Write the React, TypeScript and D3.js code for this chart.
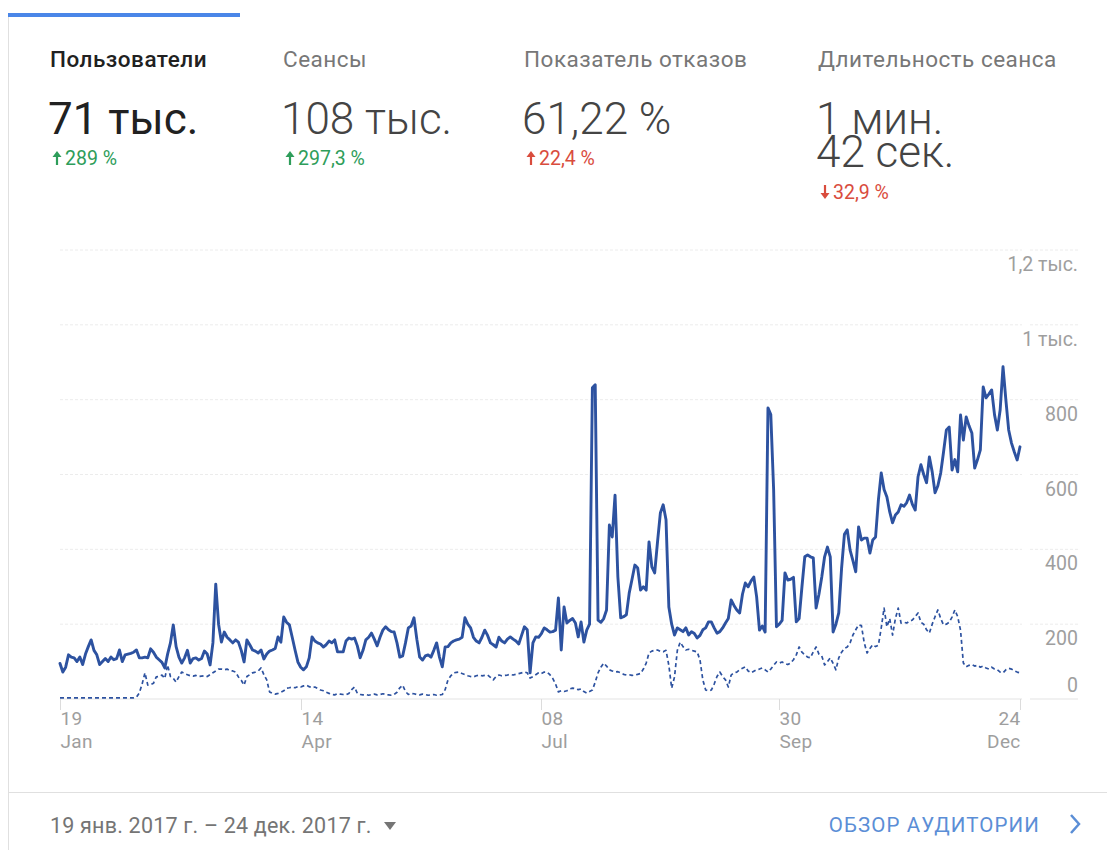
import React from "react";
import * as d3 from "d3";

// ---------- data ----------
const startDate = new Date(2017, 0, 19);
const endDate = new Date(2017, 11, 24);

// Users per day (current period), Jan 19 – Dec 24 2017
const users: number[] = [
  95, 72, 85, 118, 112, 110, 100, 112, 92, 120,
  140, 158, 130, 118, 92, 100, 108, 100, 112, 105,
  108, 131, 100, 118, 120, 122, 125, 131, 110, 110,
  112, 110, 134, 125, 112, 105, 98, 83, 120, 150,
  198, 140, 112, 96, 110, 130, 96, 108, 110, 104,
  108, 128, 120, 91, 150, 307, 200, 152, 179, 165,
  158, 150, 158, 152, 130, 99, 158, 145, 131, 128,
  123, 131, 107, 120, 128, 131, 135, 166, 152, 219,
  205, 198, 165, 131, 99, 85, 78, 86, 110, 166,
  155, 150, 147, 139, 145, 155, 150, 158, 126, 126,
  126, 155, 163, 160, 163, 142, 110, 130, 158, 165,
  176, 160, 142, 165, 184, 193, 185, 180, 179, 150,
  112, 115, 150, 190, 195, 217, 160, 112, 104, 115,
  118, 112, 130, 150, 112, 86, 139, 140, 150, 155,
  158, 160, 165, 217, 200, 190, 165, 155, 150, 165,
  184, 170, 150, 145, 139, 165, 155, 150, 160, 166,
  160, 155, 147, 170, 193, 185, 70, 150, 166, 165,
  175, 190, 185, 179, 180, 184, 270, 131, 246, 203,
  210, 215, 203, 166, 206, 152, 184, 200, 832, 840,
  211, 205, 215, 238, 465, 433, 545, 326, 217, 220,
  225, 283, 320, 358, 350, 291, 300, 291, 420, 353,
  337, 420, 497, 519, 479, 246, 200, 171, 190, 185,
  180, 190, 171, 180, 175, 163, 170, 185, 190, 206,
  206, 190, 176, 180, 190, 203, 215, 265, 250, 238,
  230, 280, 310, 300, 315, 326, 273, 184, 195, 179,
  778, 760, 560, 193, 200, 210, 337, 318, 320, 325,
  206, 215, 300, 380, 385, 380, 377, 243, 280, 326,
  380, 406, 380, 179, 200, 230, 350, 440, 452, 398,
  370, 340, 460, 425, 430, 430, 390, 425, 433, 532,
  604, 560, 540, 500, 471, 492, 500, 519, 515, 525,
  545, 520, 505, 594, 626, 600, 578, 647, 607, 551,
  570, 604, 660, 719, 727, 612, 640, 607, 759, 692,
  754, 730, 711, 617, 640, 666, 834, 805, 815, 826,
  760, 719, 773, 888, 800, 719, 684, 660, 639, 674,
];

// Users per day (previous period, comparison)
const usersPrev: number[] = [
  3, 3, 3, 3, 3, 3, 3, 3, 3, 3,
  3, 3, 3, 3, 3, 3, 3, 3, 3, 3,
  3, 3, 3, 3, 3, 3, 3, 5, 16, 40,
  70, 37, 38, 42, 59, 60, 64, 55, 91, 60,
  55, 45, 60, 72, 68, 65, 62, 61, 63, 60,
  61, 62, 60, 65, 70, 75, 80, 80, 78, 80,
  76, 75, 72, 59, 50, 37, 60, 65, 70, 72,
  75, 83, 65, 51, 19, 15, 13, 15, 18, 22,
  29, 30, 32, 30, 33, 32, 35, 37, 33, 30,
  32, 28, 24, 22, 18, 15, 12, 11, 14, 13,
  12, 11, 15, 25, 32, 15, 12, 11, 12, 10,
  12, 13, 11, 12, 14, 12, 11, 10, 12, 18,
  30, 37, 20, 12, 15, 14, 12, 11, 13, 12,
  10, 11, 12, 10, 11, 12, 25, 51, 62, 70,
  71, 72, 68, 65, 62, 60, 59, 62, 64, 62,
  63, 64, 58, 51, 60, 64, 62, 63, 64, 66,
  64, 66, 68, 70, 72, 70, 56, 60, 65, 70,
  68, 72, 72, 65, 55, 40, 19, 22, 20, 22,
  27, 29, 28, 25, 27, 20, 16, 20, 24, 45,
  70, 85, 96, 88, 78, 75, 72, 73, 70, 66,
  64, 65, 63, 64, 66, 68, 80, 96, 123, 128,
  130, 131, 127, 126, 130, 90, 29, 59, 130, 152,
  140, 131, 133, 130, 128, 126, 104, 51, 24, 22,
  24, 40, 60, 72, 60, 51, 32, 64, 70, 72,
  78, 82, 86, 75, 70, 74, 78, 80, 83, 78,
  72, 80, 90, 99, 96, 99, 95, 92, 96, 105,
  118, 139, 125, 118, 112, 110, 126, 139, 120, 115,
  91, 100, 110, 95, 78, 110, 125, 135, 139, 150,
  171, 185, 198, 196, 150, 123, 135, 145, 140, 144,
  190, 243, 193, 215, 171, 215, 243, 203, 205, 203,
  208, 211, 220, 230, 205, 200, 185, 176, 200, 220,
  238, 215, 198, 200, 205, 219, 238, 220, 184, 96,
  86, 90, 92, 88, 90, 85, 88, 83, 80, 85,
  80, 78, 72, 70, 78, 82, 80, 75, 72, 70,
];

const yTicks: number[] = [0, 200, 400, 600, 800, 1000, 1200];
const yTickLabels: string[] = ["0", "200", "400", "600", "800", "1 тыс.", "1,2 тыс."];

const xTickDates: Date[] = [
  new Date(2017, 0, 19),
  new Date(2017, 3, 14),
  new Date(2017, 6, 8),
  new Date(2017, 8, 30),
  new Date(2017, 11, 24),
];
const xTickDays: string[] = ["19", "14", "08", "30", "24"];
const xTickMonths: string[] = ["Jan", "Apr", "Jul", "Sep", "Dec"];

const metricNames: string[] = ["Пользователи", "Сеансы", "Показатель отказов", "Длительность сеанса"];
const metricValues: string[][] = [["71 тыс."], ["108 тыс."], ["61,22 %"], ["1 мин.", "42 сек."]];
const metricChanges: string[] = ["289 %", "297,3 %", "22,4 %", "32,9 %"];
const metricUp: boolean[] = [true, true, true, false];
const metricGood: boolean[] = [true, true, false, false];

const dateRangeText = "19 янв. 2017 г. – 24 дек. 2017 г.";
const linkText = "ОБЗОР АУДИТОРИИ";

// ---------- layout ----------
const W = 1107;
const H = 850;
const FONT = "Roboto, 'Noto Sans', sans-serif";
const LINE = "#2d52a0";
const AXIS_TEXT = "#9e9e9e";

export default function App() {
  const x = d3.scaleTime().domain([startDate, endDate]).range([60, 1020]);
  const y = d3.scaleLinear().domain([0, 1200]).range([699, 250]);

  const dates = users.map((_, i) => d3.timeDay.offset(startDate, i));

  const line = d3
    .line<number>()
    .x((_, i) => x(dates[i]))
    .y((d) => y(d));

  const colX = [50, 283, 524, 818];

  return (
    <div style={{ position: "fixed", left: 0, top: 0, width: W, height: H, background: "#fff" }}>
      <svg width={W} height={H} style={{ display: "block", fontFamily: FONT }}>
        <rect x={0} y={0} width={W} height={H} fill="#fff" />
        {/* card frame */}
        <line x1={8.5} y1={15} x2={8.5} y2={H} stroke="#e0e0e0" strokeWidth={1} />
        <rect x={8} y={13} width={232} height={4} fill="#4a86e8" />
        <line x1={8} y1={792.5} x2={W} y2={792.5} stroke="#e0e0e0" strokeWidth={1} />

        {/* metrics header */}
        {metricNames.map((name, i) => {
          const cx = colX[i];
          const vals = metricValues[i];
          const changeY = 165 + (vals.length - 1) * 34;
          const color = metricGood[i] ? "#2e9d5a" : "#d94c3d";
          const top = changeY - 14;
          return (
            <g key={name}>
              <text
                x={cx}
                y={67}
                fontSize={22.5}
                letterSpacing={0.5}
                fontWeight={i === 0 ? 500 : 400}
                fill={i === 0 ? "#212121" : "#777"}
              >
                {name}
              </text>
              {vals.map((v, j) => (
                <text
                  key={v}
                  x={cx - 2}
                  y={134 + j * 33}
                  fontSize={44}
                  fontWeight={i === 0 ? 400 : 300}
                  fill={i === 0 ? "#212121" : "#444"}
                >
                  {v}
                </text>
              ))}
              {/* arrow */}
              <g fill={color} stroke={color}>
                {metricUp[i] ? (
                  <>
                    <line x1={cx + 7} y1={top + 4} x2={cx + 7} y2={top + 14} strokeWidth={2.2} />
                    <path d={`M${cx + 2.5},${top + 6} L${cx + 7},${top} L${cx + 11.5},${top + 6} Z`} stroke="none" />
                  </>
                ) : (
                  <>
                    <line x1={cx + 7} y1={top} x2={cx + 7} y2={top + 10} strokeWidth={2.2} />
                    <path d={`M${cx + 2.5},${top + 8} L${cx + 7},${top + 14} L${cx + 11.5},${top + 8} Z`} stroke="none" />
                  </>
                )}
              </g>
              <text x={cx + 15} y={changeY} fontSize={19.5} fill={color}>
                {metricChanges[i]}
              </text>
            </g>
          );
        })}

        {/* grid */}
        {yTicks.map((t) => (
          <g key={t}>
            <line
              x1={60}
              x2={1022}
              y1={y(t)}
              y2={y(t)}
              stroke={t === 0 ? "#e3e3e3" : "#ececec"}
              strokeWidth={1}
              strokeDasharray={t === 0 ? undefined : "3,2"}
            />
            <line
              x1={1030}
              x2={1078}
              y1={y(t)}
              y2={y(t)}
              stroke={t === 0 ? "#e3e3e3" : "#ececec"}
              strokeWidth={1}
              strokeDasharray={t === 0 ? undefined : "3,2"}
            />
          </g>
        ))}
        {yTicks.map((t, i) => (
          <text
            key={"l" + t}
            x={1078}
            y={t === 0 ? y(t) - 7 : y(t) + 21}
            textAnchor="end"
            fontSize={19.5}
            fill={AXIS_TEXT}
          >
            {yTickLabels[i]}
          </text>
        ))}

        {/* x ticks */}
        {xTickDates.map((d, i) => {
          const px = Math.round(x(d)) + 0.5;
          const last = i === xTickDates.length - 1;
          return (
            <g key={i}>
              <line x1={px} x2={px} y1={699} y2={710} stroke="#dcdcdc" />
              <text x={px} y={725} fontSize={19} letterSpacing={0.3} fill={AXIS_TEXT} textAnchor={last ? "end" : "start"}>
                {xTickDays[i]}
              </text>
              <text x={px} y={747.5} fontSize={19} letterSpacing={0.3} fill={AXIS_TEXT} textAnchor={last ? "end" : "start"}>
                {xTickMonths[i]}
              </text>
            </g>
          );
        })}

        {/* series */}
        <path
          d={line(usersPrev) || ""}
          fill="none"
          stroke={LINE}
          strokeWidth={1.7}
          strokeDasharray="4,3"
          strokeLinejoin="round"
        />
        <path
          d={line(users) || ""}
          fill="none"
          stroke={LINE}
          strokeWidth={2.9}
          strokeLinejoin="round"
          strokeLinecap="round"
        />

        {/* footer */}
        <text x={50} y={833} fontSize={21.5} letterSpacing={0.2} fill="#757575">
          {dateRangeText}
        </text>
        <path d="M384,822 L396,822 L390,830 Z" fill="#757575" />
        <text x={1040} y={832} fontSize={20.5} fill="#5b8ed6" textAnchor="end" letterSpacing={1.1}>
          {linkText}
        </text>
        <polyline
          points="1071,815 1079,824 1071,833"
          fill="none"
          stroke="#5b8ed6"
          strokeWidth={2.5}
        />
      </svg>
    </div>
  );
}
